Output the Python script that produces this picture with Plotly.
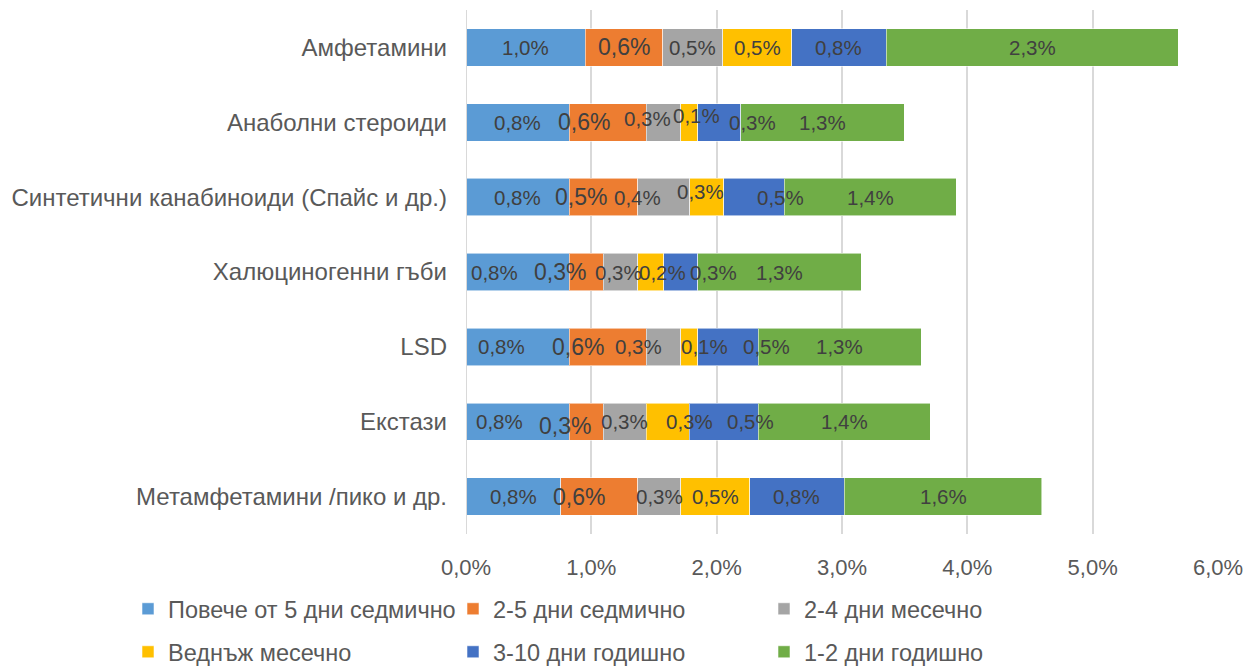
import plotly.graph_objects as go

# Substances, top to bottom
categories = [
    "Амфетамини",
    "Анаболни стероиди",
    "Синтетични канабиноиди (Спайс и др.)",
    "Халюциногенни гъби",
    "LSD",
    "Екстази",
    "Метамфетамини /пико и др.",
]

# Frequency-of-use groups
series_names = [
    "Повече от 5 дни седмично",
    "2-5 дни седмично",
    "2-4 дни месечно",
    "Веднъж месечно",
    "3-10 дни годишно",
    "1-2 дни годишно",
]

# Share of respondents, percent (one list per frequency group, in category order)
more_than_5_weekly = [0.953, 0.823, 0.823, 0.823, 0.823, 0.823, 0.754]
days_2_5_weekly    = [0.617, 0.617, 0.549, 0.274, 0.617, 0.274, 0.617]
days_2_4_monthly   = [0.480, 0.274, 0.412, 0.274, 0.274, 0.343, 0.343]
once_monthly       = [0.549, 0.137, 0.274, 0.206, 0.137, 0.343, 0.549]
days_3_10_yearly   = [0.754, 0.343, 0.480, 0.274, 0.480, 0.549, 0.754]
days_1_2_yearly    = [2.331, 1.303, 1.372, 1.303, 1.303, 1.372, 1.578]

x_tick_values = [0, 1, 2, 3, 4, 5, 6]
x_tick_labels = ["0,0%", "1,0%", "2,0%", "3,0%", "4,0%", "5,0%", "6,0%"]

series_values = [
    more_than_5_weekly,
    days_2_5_weekly,
    days_2_4_monthly,
    once_monthly,
    days_3_10_yearly,
    days_1_2_yearly,
]

# ---- styling ----
colors = ["#5B9BD5", "#ED7D31", "#A5A5A5", "#FFC000", "#4472C4", "#70AD47"]
label_sizes = [20.5, 23, 20.5, 20.5, 20.5, 20.5]
FONT = "Liberation Sans, Arial, sans-serif"

# data-label nudges in pixels (row = category, column = series) so that
# neighbouring labels on thin segments do not sit on top of each other
label_dx = [
    [0, 0, 0, 0, 0, 0],
    [0, -24, -16, 7, 33, 0],
    [0, -23, -26, -6, 26, 0],
    [-23, -26, -2, 12, 33, 0],
    [-16, -30, -25, 15, 38, 0],
    [-18, -21, 0, 22, 27, 0],
    [0, -20, 0, 0, 0, 0],
]
label_dy = [
    [0, 0, 0, 0, 0, 0],
    [0, 0, 4, 7, 0, 0],
    [0, 0, 0, 6, 0, 0],
    [0, 0, 0, 0, 0, 0],
    [0, 0, 0, 0, 0, 0],
    [0, -4, 0, 0, 0, 0],
    [0, 0, 0, 0, 0, 0],
]

# legend slots: (left edge px, vertical centre px) in a 1254x667 canvas
W, H = 1254, 667
legend_slots = [(128, 609), (453, 609), (764, 609),
                (128, 652), (453, 652), (764, 652)]

fig = go.Figure()
for i, (name, vals, col) in enumerate(zip(series_names, series_values, colors)):
    fig.add_trace(go.Bar(
        y=categories,
        x=vals,
        name=name,
        orientation="h",
        marker=dict(color=col, line=dict(color="rgba(255,255,255,0.55)", width=1)),
        legend="legend" if i == 0 else f"legend{i + 1}",
        hovertemplate="%{y}<br>" + name + ": %{x:.1f}%<extra></extra>",
    ))

# data labels centred on each segment (value rounded to one decimal)
for r, cat in enumerate(categories):
    left = 0.0
    for s, vals in enumerate(series_values):
        v = vals[r]
        fig.add_annotation(
            x=left + v / 2, y=cat, xref="x", yref="y",
            text=f"{v:.1f}%".replace(".", ","),
            showarrow=False,
            xshift=label_dx[r][s], yshift=label_dy[r][s],
            font=dict(family=FONT, size=label_sizes[s], color="#404040"),
        )
        left += v

legend_layout = {}
for i, (lx, ly) in enumerate(legend_slots):
    key = "legend" if i == 0 else f"legend{i + 1}"
    legend_layout[key] = dict(
        xref="container", yref="container",
        x=lx / W, y=1 - ly / H,
        xanchor="left", yanchor="middle",
        orientation="h",
        bgcolor="rgba(0,0,0,0)",
        borderwidth=0,
        font=dict(family=FONT, size=23.5, color="#595959"),
    )

fig.update_layout(
    barmode="stack",
    bargap=0.5,
    width=W,
    height=H,
    margin=dict(l=466, r=36, t=10, b=133, autoexpand=False),
    paper_bgcolor="white",
    plot_bgcolor="white",
    font=dict(family=FONT, color="#595959", size=20),
    xaxis=dict(
        range=[0, 6],
        tickvals=x_tick_values,
        ticktext=x_tick_labels,
        showgrid=True,
        gridcolor="#D9D9D9",
        gridwidth=2,
        zeroline=False,
        showline=False,
        ticks="",
        ticklabelstandoff=18,
        automargin=False,
        tickfont=dict(family=FONT, size=22, color="#595959"),
        fixedrange=True,
    ),
    yaxis=dict(
        autorange="reversed",
        showgrid=False,
        showline=False,
        ticks="",
        ticklabelstandoff=18,
        automargin=False,
        tickfont=dict(family=FONT, size=24, color="#595959"),
        fixedrange=True,
    ),
    showlegend=True,
    **legend_layout,
)

# vertical axis line at zero
fig.add_shape(type="line", xref="x", yref="paper", x0=0, x1=0, y0=0, y1=1,
              line=dict(color="#D9D9D9", width=2))

fig.write_html("out.html")
